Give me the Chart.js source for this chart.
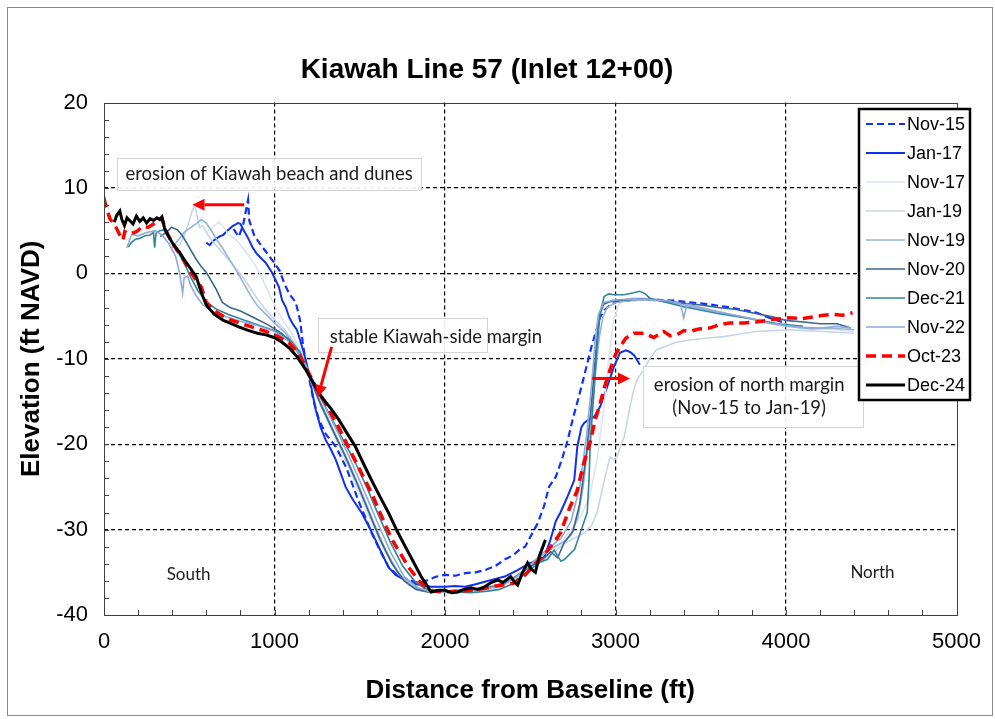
<!DOCTYPE html>
<html>
<head>
<meta charset="utf-8">
<title>Kiawah Line 57 (Inlet 12+00)</title>
<script src="https://cdn.jsdelivr.net/npm/chart.js@4.4.1/dist/chart.umd.min.js"></script>
<style>
  html, body { margin: 0; padding: 0; background: #fff; }
  canvas { display: block; }
</style>
</head>
<body>
<canvas id="profileChart" width="995" height="719"></canvas>
<script>
// ========================
// DATA  (distance ft, elevation ft NAVD)
// ========================
const seriesLabels = ['Nov-15', 'Jan-17', 'Nov-17', 'Jan-19', 'Nov-19', 'Nov-20', 'Dec-21', 'Nov-22', 'Oct-23', 'Dec-24'];
const xTickValues = [0, 1000, 2000, 3000, 4000, 5000];
const yTickValues = [-40, -30, -20, -10, 0, 10, 20];

const nov15 = [[760,5.2],[790,4.3],[815,5.6],[835,7.6],[845,8.6],[852,6.2],[880,4.5],[910,3.6],[940,2.8],[970,2.0],[1000,1.2],[1030,0.3],[1060,-1.3],[1090,-2.5],[1125,-3.4],[1150,-5.5],[1165,-8],[1180,-10],[1200,-12],[1230,-15],[1260,-17.1],[1300,-18.8],[1360,-20.3],[1420,-22.7],[1490,-26.5],[1570,-30.4],[1620,-32.5],[1670,-34.4],[1730,-35.5],[1790,-35.9],[1850,-36.3],[1900,-35.9],[1950,-35.5],[2000,-35.3],[2060,-35.4],[2120,-35.1],[2180,-35.0],[2240,-34.7],[2300,-34.2],[2350,-33.5],[2400,-33.0],[2440,-32.3],[2470,-32.0],[2510,-30.5],[2545,-29.2],[2580,-27.3],[2610,-25.0],[2650,-23.8],[2690,-21.5],[2720,-19.5],[2750,-17],[2780,-14.8],[2810,-12.5],[2835,-10.5],[2860,-8.5],[2880,-7.2],[2910,-5.1],[2940,-4.2],[2970,-3.7],[3010,-3.3],[3060,-3.2],[3125,-3.1],[3250,-3.1],[3350,-3.2],[3440,-3.4],[3540,-3.6],[3640,-3.9],[3730,-4.2],[3830,-4.6],[3900,-5.2],[3980,-5.7]];

const jan17 = [[600,3.6],[620,3.3],[640,3.8],[660,4.1],[676,4.3],[700,4.5],[717,4.9],[735,5.2],[752,5.5],[770,5.7],[785,5.9],[800,5.8],[815,5.2],[835,4.5],[851,3.9],[870,3.1],[892,2.4],[920,1.8],[950,1.2],[985,0.1],[1026,-1.6],[1044,-3.1],[1067,-4.0],[1085,-5.1],[1110,-6.0],[1131,-6.6],[1150,-7.8],[1172,-9.3],[1201,-11.6],[1220,-13.8],[1242,-16],[1270,-18],[1300,-19.5],[1330,-20.6],[1359,-21.8],[1390,-23.5],[1417,-25],[1460,-26.5],[1510,-28],[1550,-29.5],[1592,-31.2],[1630,-32.8],[1668,-34.4],[1710,-35.3],[1767,-35.9],[1830,-36.4],[1918,-36.7],[2000,-36.7],[2060,-36.6],[2117,-36.7],[2180,-36.4],[2233,-36.1],[2290,-35.8],[2350,-35.5],[2420,-34.8],[2501,-33.9],[2540,-33.6],[2583,-33.2],[2618,-31.2],[2650,-29],[2677,-28],[2717,-26.2],[2758,-24.2],[2776,-20.3],[2800,-18],[2816,-17.5],[2850,-17],[2875,-16.8],[2910,-15.6],[2951,-13.3],[2991,-10.9],[3026,-9.3],[3060,-9.0],[3085,-9.2],[3110,-9.6],[3125,-10.1],[3143,-10.7]];

const nov17 = [[600,4.8],[630,5.3],[660,5.8],[676,6.0],[700,5.4],[730,4.6],[760,4.2],[790,3.6],[820,2.8],[850,2.0],[892,0.8],[920,-0.3],[950,-1.6],[985,-3.1],[1020,-4.5],[1060,-5.8],[1100,-7],[1150,-8.9],[1200,-11.8],[1260,-15],[1320,-17.6],[1390,-20.5],[1460,-23.6],[1530,-26.8],[1600,-30.2],[1670,-33.2],[1740,-35.4],[1810,-36.6],[1880,-37.1],[1950,-37.3],[2050,-37.2],[2150,-37.1],[2250,-36.9],[2350,-36.3],[2430,-35.6],[2500,-34.6],[2560,-33.8],[2620,-32.8],[2680,-31.5],[2740,-30],[2800,-28.3],[2850,-26],[2890,-22],[2930,-16],[2960,-10],[2990,-5.5],[3020,-3.6],[3060,-3.0],[3120,-2.8],[3200,-3.0],[3300,-3.2],[3400,-3.6],[3500,-4.0],[3600,-4.4],[3700,-4.9],[3800,-5.4],[3900,-5.9],[4000,-6.2],[4100,-6.4],[4200,-6.5],[4300,-6.6],[4400,-6.8]];

const jan19 = [[440,3.2],[470,4.4],[495,5.8],[515,7.2],[531,8.0],[545,6.8],[560,5.4],[580,5.6],[600,4.8],[630,3.9],[660,3.2],[700,2.3],[740,1.4],[780,0.4],[820,-0.6],[860,-1.8],[900,-3.0],[950,-4.3],[1000,-5.4],[1060,-6.6],[1120,-8.2],[1180,-10.8],[1240,-14],[1300,-16.8],[1370,-19.8],[1440,-22.9],[1510,-26.2],[1580,-29.6],[1650,-32.6],[1720,-35],[1790,-36.5],[1860,-37.2],[1920,-37.4],[2000,-37.3],[2100,-37.3],[2200,-37.2],[2300,-36.8],[2380,-36.1],[2450,-35.3],[2520,-34.3],[2580,-33.5],[2640,-32.6],[2700,-31.6],[2760,-31],[2816,-30.4],[2860,-29.5],[2892,-28],[2920,-25.5],[2945,-23.3],[2968,-21.5],[2990,-21.8],[3009,-21.5],[3030,-20.2],[3050,-19.2],[3070,-17.2],[3085,-15.6],[3105,-13.8],[3125,-12.5],[3166,-11.3],[3200,-10],[3242,-8.9],[3300,-8.5],[3350,-8.1],[3434,-7.8],[3530,-7.6],[3633,-7.4],[3730,-7.1],[3825,-6.8],[3920,-6.7],[4017,-6.6],[4120,-6.7],[4216,-6.8],[4300,-6.9],[4400,-7.0]];

const nov19 = [[400,3.0],[430,3.8],[470,4.8],[510,5.4],[540,5.8],[570,6.3],[600,5.9],[630,5.0],[660,4.0],[700,2.8],[740,1.5],[780,0.2],[820,-1.2],[860,-2.6],[900,-3.8],[950,-4.8],[1000,-5.8],[1060,-6.9],[1120,-8.4],[1180,-10.9],[1240,-13.8],[1300,-16.4],[1370,-19.4],[1440,-22.4],[1510,-25.6],[1580,-29.1],[1650,-32.3],[1720,-34.9],[1790,-36.4],[1860,-37.1],[1930,-37.3],[2030,-37.2],[2130,-37.0],[2230,-36.8],[2330,-36.3],[2420,-35.4],[2490,-34.4],[2550,-33.3],[2600,-32.6],[2650,-31.9],[2700,-31.4],[2740,-30.6],[2780,-28.5],[2810,-25],[2840,-20],[2865,-15],[2885,-11],[2905,-7.5],[2925,-5.2],[2950,-4.0],[3000,-3.4],[3080,-3.2],[3160,-3.1],[3250,-3.2],[3350,-3.5],[3450,-3.9],[3550,-4.3],[3650,-4.7],[3750,-5.1],[3850,-5.6],[3950,-6.0],[4050,-6.3],[4150,-6.5],[4250,-6.4],[4400,-6.6]];

const nov20 = [[330,4.3],[350,4.6],[367,4.8],[396,5.4],[431,5.1],[460,4.4],[484,3.6],[510,2.7],[542,1.6],[570,0.8],[600,0.1],[630,-0.9],[659,-1.9],[694,-3.4],[740,-4.0],[800,-4.4],[880,-5.2],[960,-6.0],[1040,-7.0],[1100,-8.1],[1160,-10],[1210,-12.3],[1270,-15.3],[1340,-18.3],[1410,-21.2],[1480,-24.4],[1550,-27.8],[1620,-31.2],[1690,-34],[1760,-36],[1830,-37],[1900,-37.3],[2000,-37.2],[2100,-37.1],[2200,-37.0],[2300,-36.6],[2380,-36],[2450,-35],[2510,-34.2],[2570,-33.5],[2620,-32.6],[2660,-33.3],[2700,-31.5],[2750,-30.2],[2790,-27],[2830,-21],[2860,-15],[2885,-9],[2905,-5],[2930,-3.6],[2970,-3.3],[3050,-3.1],[3150,-3.0],[3250,-3.1],[3400,-3.5],[3500,-3.7],[3600,-4.0],[3700,-4.2],[3800,-4.6],[3900,-5.0],[4000,-5.5],[4100,-5.7],[4200,-5.9],[4300,-5.9],[4380,-6.4]];

const dec21 = [[142,3.1],[160,3.6],[185,4.0],[210,4.1],[240,4.4],[270,4.5],[290,4.8],[297,3.0],[305,4.7],[327,5.0],[350,5.1],[375,4.3],[400,3.5],[430,2.6],[470,1.2],[510,-0.5],[550,-2.0],[600,-3.3],[660,-4.2],[730,-4.8],[800,-5.3],[900,-6.0],[1000,-6.7],[1080,-7.6],[1150,-9.2],[1200,-11.5],[1260,-14.2],[1330,-16.8],[1400,-19.4],[1470,-22],[1540,-25],[1610,-28.3],[1680,-31.5],[1750,-34.2],[1820,-36],[1880,-36.9],[1940,-37.2],[2050,-37.3],[2150,-37.4],[2250,-37.2],[2320,-37.0],[2380,-36.5],[2450,-35.5],[2510,-34.5],[2560,-33.8],[2600,-33.5],[2640,-32.4],[2680,-33.7],[2700,-33.5],[2760,-32.3],[2793,-30.4],[2834,-28],[2845,-24],[2851,-20.3],[2862,-17],[2875,-13.6],[2890,-9],[2910,-4.6],[2933,-2.7],[2960,-2.4],[2991,-2.5],[3050,-2.5],[3100,-2.3],[3143,-2.1],[3175,-2.4],[3201,-2.9],[3300,-3.4],[3400,-3.9],[3475,-4.2],[3600,-4.7],[3700,-5.0],[3825,-5.4],[3950,-5.9],[4100,-6.2]];

const nov22 = [[134,3.0],[163,4.6],[200,4.4],[250,4.8],[300,5.0],[340,4.5],[380,3.5],[420,2.0],[443,0.1],[455,-1.5],[461,-2.3],[470,-0.5],[490,-0.3],[510,-1.5],[540,-2.6],[580,-3.7],[640,-4.5],[720,-5.1],[800,-5.6],[900,-6.1],[1000,-6.8],[1100,-8.2],[1180,-10.6],[1240,-13.2],[1310,-16.2],[1380,-19],[1450,-22],[1520,-25.2],[1600,-29],[1680,-32.6],[1760,-35.5],[1840,-36.8],[1920,-37.3],[2050,-37.2],[2150,-37.0],[2250,-36.9],[2350,-36.4],[2420,-35.5],[2490,-34.3],[2560,-33],[2620,-32],[2680,-31],[2740,-29],[2790,-25],[2830,-19],[2860,-13],[2880,-8],[2900,-4.8],[2930,-3.4],[3000,-3.1],[3100,-3.0],[3200,-3.1],[3300,-3.2],[3380,-3.5],[3400,-5.2],[3420,-3.6],[3500,-4.0],[3600,-4.5],[3700,-4.9],[3800,-5.3],[3900,-5.8],[4000,-6.1],[4100,-6.3],[4200,-6.4],[4300,-6.2],[4380,-6.4]];

const oct23 = [[0,7.7],[6,8.3],[15,7.6],[23,7.1],[35,6.4],[52,5.9],[70,5.4],[90,4.6],[111,3.9],[122,4.9],[150,4.6],[192,4.9],[227,5.5],[260,5.4],[300,5.9],[338,6.5],[367,4.8],[395,3.8],[425,2.8],[460,1.8],[501,0.4],[540,-0.8],[571,-1.6],[600,-3.4],[640,-4.3],[690,-4.9],[735,-5.4],[793,-5.8],[870,-6.3],[950,-6.8],[1020,-7.4],[1085,-8.1],[1140,-9.4],[1184,-11],[1240,-13.2],[1310,-15.6],[1376,-18],[1440,-20.6],[1500,-23],[1569,-25.7],[1640,-29],[1690,-31.2],[1726,-32.4],[1790,-34.5],[1843,-35.9],[1890,-36.8],[1930,-37.2],[2000,-37.3],[2100,-37.2],[2200,-37.0],[2300,-36.6],[2400,-36.3],[2470,-35.3],[2530,-34.0],[2600,-32.5],[2640,-31.5],[2677,-30.4],[2730,-27.5],[2776,-25.4],[2810,-22.5],[2851,-19.8],[2880,-17.2],[2910,-15.2],[2940,-13],[2968,-11.3],[3000,-9.5],[3026,-8.6],[3060,-7.6],[3108,-7.0],[3166,-7.0],[3224,-7.5],[3283,-6.8],[3320,-7.3],[3359,-7.2],[3400,-6.7],[3434,-6.8],[3490,-6.5],[3551,-6.4],[3610,-6.0],[3668,-5.8],[3750,-5.8],[3825,-5.7],[3920,-5.4],[4017,-5.2],[4090,-5.3],[4157,-5.1],[4220,-4.9],[4274,-4.8],[4330,-4.9],[4390,-4.6]];

const dec24 = [[60,6.0],[75,6.8],[93,7.3],[105,6.3],[120,5.6],[135,6.5],[150,6.2],[170,5.8],[190,6.7],[210,6.1],[230,6.5],[250,5.9],[270,6.4],[290,6.2],[310,6.5],[327,6.3],[340,6.6],[355,5.3],[370,4.7],[385,4.1],[410,3.3],[443,2.5],[470,1.6],[500,0.8],[520,0.2],[542,-0.4],[560,-1.6],[580,-2.7],[600,-3.7],[625,-4.3],[647,-4.8],[700,-5.5],[750,-5.9],[793,-6.3],[850,-6.7],[900,-7.0],[950,-7.2],[997,-7.5],[1040,-8.0],[1085,-8.7],[1130,-9.7],[1184,-11.3],[1230,-12.9],[1277,-14.5],[1330,-15.8],[1376,-17.1],[1425,-18.7],[1475,-20.3],[1520,-22.2],[1569,-24.2],[1620,-26.2],[1668,-28],[1720,-30.2],[1767,-32],[1815,-33.8],[1860,-35.5],[1890,-36.4],[1918,-37.3],[1960,-37.1],[2000,-37.1],[2040,-37.4],[2076,-37.3],[2110,-37.0],[2152,-36.8],[2190,-37.0],[2233,-36.7],[2270,-36.2],[2309,-35.9],[2340,-36.2],[2385,-35.5],[2410,-36.2],[2426,-36.5],[2455,-35.0],[2484,-33.9],[2505,-34.6],[2530,-35.0],[2555,-33.0],[2589,-31.2]];

const seriesData = [nov15, jan17, nov17, jan19, nov19, nov20, dec21, nov22, oct23, dec24];

// ========================
// STYLES
// ========================
const seriesStyles = [
  { color: '#1030ff', width: 2.2, dash: [7, 4] },
  { color: '#1030f0', width: 2.0, dash: [] },
  { color: '#dbe5f1', width: 1.6, dash: [] },
  { color: '#c5d6ea', width: 1.6, dash: [] },
  { color: '#95b3d7', width: 1.6, dash: [] },
  { color: '#3a6592', width: 1.6, dash: [] },
  { color: '#31849b', width: 1.6, dash: [] },
  { color: '#8eaadb', width: 1.6, dash: [] },
  { color: '#ff0000', width: 3.5, dash: [10, 6] },
  { color: '#000000', width: 3.0, dash: [] }
];

const AXIS_FONT = "'Liberation Sans', Arial, sans-serif";
const NOTE_FONT = "Lato, 'Open Sans', sans-serif";

// annotation boxes and arrows, in data units
const noteBoxes = [
  { x0: 76, x1: 1860, y0: 13.55, y1: 9.8, lines: ['erosion of Kiawah beach and dunes'], tx: 968, ty: [11.65], align: 'center' },
  { x0: 1254, x1: 2245, y0: -5.2, y1: -9.2, lines: ['stable Kiawah-side margin'], tx: 1324, ty: [-7.4], align: 'left' },
  { x0: 3160, x1: 4449, y0: -10.9, y1: -18.1, lines: ['erosion of north margin', '(Nov-15 to Jan-19)'], tx: 3784, ty: [-13.05, -15.75], align: 'center' }
];
const noteArrows = [
  { from: [822, 8.05], to: [519, 8.05] },
  { from: [1335, -8.6], to: [1254, -14.5] },
  { from: [2863, -12.3], to: [3085, -12.3] }
];
const sideLabels = [
  { text: 'South', x: 496, y: -35.3 },
  { text: 'North', x: 4507, y: -35.0 }
];

// ========================
// PLUGINS
// ========================
const pagePlugin = {
  id: 'page',
  beforeDraw(chart) {
    const { ctx, width, height } = chart;
    ctx.save();
    ctx.fillStyle = '#fff';
    ctx.fillRect(0, 0, width, height);
    ctx.strokeStyle = '#8a8a8a';
    ctx.lineWidth = 1;
    ctx.strokeRect(7.5, 7.5, width - 10, height - 11);
    ctx.restore();
  }
};

const frameAndTicksPlugin = {
  id: 'frameTicks',
  afterDatasetsDraw(chart) {
    const { ctx, chartArea: a, scales: { x, y } } = chart;
    ctx.save();
    ctx.strokeStyle = '#404040';
    ctx.lineWidth = 1;
    ctx.beginPath();
    for (let v = x.min; v <= x.max; v += 200) {
      const p = Math.round(x.getPixelForValue(v)) + 0.5;
      ctx.moveTo(p, a.bottom);
      ctx.lineTo(p, a.bottom - 5);
    }
    for (let v = y.min; v <= y.max; v += 2) {
      const p = Math.round(y.getPixelForValue(v)) + 0.5;
      ctx.moveTo(a.left, p);
      ctx.lineTo(a.left + 5, p);
    }
    ctx.stroke();
    ctx.strokeRect(Math.round(a.left) + 0.5, Math.round(a.top) + 0.5,
      Math.round(a.right - a.left), Math.round(a.bottom - a.top));
    ctx.restore();
  }
};

function drawArrow(ctx, x1, y1, x2, y2) {
  const ang = Math.atan2(y2 - y1, x2 - x1);
  const head = 12, half = 6;
  const bx = x2 - head * Math.cos(ang), by = y2 - head * Math.sin(ang);
  ctx.beginPath();
  ctx.moveTo(x1, y1);
  ctx.lineTo(bx, by);
  ctx.stroke();
  ctx.beginPath();
  ctx.moveTo(x2, y2);
  ctx.lineTo(bx + half * Math.sin(ang), by - half * Math.cos(ang));
  ctx.lineTo(bx - half * Math.sin(ang), by + half * Math.cos(ang));
  ctx.closePath();
  ctx.fill();
}

const notesPlugin = {
  id: 'notes',
  afterDatasetsDraw(chart) {
    const { ctx, scales: { x, y } } = chart;
    ctx.save();
    ctx.font = `18.5px ${NOTE_FONT}`;
    ctx.textBaseline = 'middle';
    noteBoxes.forEach(b => {
      const left = x.getPixelForValue(b.x0), right = x.getPixelForValue(b.x1);
      const top = y.getPixelForValue(b.y0), bottom = y.getPixelForValue(b.y1);
      ctx.fillStyle = 'rgba(255,255,255,0.9)';
      ctx.fillRect(left, top, right - left, bottom - top);
      ctx.strokeStyle = '#d4d4d4';
      ctx.lineWidth = 1;
      ctx.strokeRect(Math.round(left) + 0.5, Math.round(top) + 0.5, Math.round(right - left), Math.round(bottom - top));
      ctx.fillStyle = '#1a1a1a';
      ctx.textAlign = b.align;
      b.lines.forEach((t, i) => ctx.fillText(t, x.getPixelForValue(b.tx), y.getPixelForValue(b.ty[i])));
    });
    ctx.font = `17px ${NOTE_FONT}`;
    ctx.textAlign = 'center';
    sideLabels.forEach(s => ctx.fillText(s.text, x.getPixelForValue(s.x), y.getPixelForValue(s.y)));

    ctx.strokeStyle = '#ff0000';
    ctx.fillStyle = '#ff0000';
    ctx.lineWidth = 3;
    noteArrows.forEach(a => drawArrow(ctx,
      x.getPixelForValue(a.from[0]), y.getPixelForValue(a.from[1]),
      x.getPixelForValue(a.to[0]), y.getPixelForValue(a.to[1])));
    ctx.restore();
  }
};

// legend box sits over the right edge of the plot, like the original
const legendPlugin = {
  id: 'boxLegend',
  afterDraw(chart) {
    const { ctx } = chart;
    const box = { left: 859, top: 109, right: 970, bottom: 400 };
    const firstY = 124, step = 29.0;
    ctx.save();
    ctx.fillStyle = '#fff';
    ctx.fillRect(box.left, box.top, box.right - box.left, box.bottom - box.top);
    ctx.strokeStyle = '#000';
    ctx.lineWidth = 2.5;
    ctx.strokeRect(box.left, box.top, box.right - box.left, box.bottom - box.top);
    ctx.font = `18px ${AXIS_FONT}`;
    ctx.textBaseline = 'middle';
    ctx.textAlign = 'left';
    chart.data.datasets.forEach((ds, i) => {
      const yy = firstY + i * step;
      ctx.strokeStyle = ds.borderColor;
      ctx.lineWidth = ds.borderWidth;
      ctx.setLineDash(ds.borderDash || []);
      ctx.beginPath();
      ctx.moveTo(866, yy);
      ctx.lineTo(905, yy);
      ctx.stroke();
      ctx.setLineDash([]);
      ctx.fillStyle = '#000';
      ctx.fillText(ds.label, 907, yy + 1);
    });
    ctx.restore();
  }
};

// ========================
// CHART
// ========================
const isEdge = (ctx, lo, hi) => ctx.tick && (ctx.tick.value === lo || ctx.tick.value === hi);

new Chart(document.getElementById('profileChart'), {
  type: 'line',
  data: {
    datasets: seriesLabels.map((label, i) => ({
      label,
      data: seriesData[i].map(([dx, el]) => ({ x: dx, y: el })),
      borderColor: seriesStyles[i].color,
      borderWidth: seriesStyles[i].width,
      borderDash: seriesStyles[i].dash,
      pointRadius: 0,
      tension: 0,
      fill: false,
      order: seriesLabels.length - i
    }))
  },
  options: {
    responsive: false,
    animation: false,
    events: [],
    layout: { padding: { left: 12, right: 33, top: 0, bottom: 10 } },
    plugins: {
      legend: { display: false },
      tooltip: { enabled: false },
      title: {
        display: true,
        text: 'Kiawah Line 57 (Inlet 12+00)',
        color: '#000',
        font: { family: AXIS_FONT, size: 28, weight: 'bold' },
        padding: { top: 53, bottom: 16 }
      }
    },
    scales: {
      x: {
        type: 'linear',
        min: 0,
        max: 5000,
        afterBuildTicks: s => { s.ticks = xTickValues.map(v => ({ value: v })); },
        afterFit: s => { s.height = 94; },
        ticks: { color: '#000', font: { family: AXIS_FONT, size: 22 }, padding: 14, maxRotation: 0, callback: v => String(v) },
        grid: { color: c => isEdge(c, 0, 5000) ? 'rgba(0,0,0,0)' : '#000', lineWidth: 1.2, drawTicks: false },
        border: { display: false, dash: [4, 3] },
        title: {
          display: true,
          text: 'Distance from Baseline (ft)',
          color: '#000',
          font: { family: AXIS_FONT, size: 26, weight: 'bold' },
          padding: { top: 0, bottom: 3 }
        }
      },
      y: {
        type: 'linear',
        min: -40,
        max: 20,
        afterBuildTicks: s => { s.ticks = yTickValues.map(v => ({ value: v })); },
        afterFit: s => { s.width = 92; },
        ticks: { color: '#000', font: { family: AXIS_FONT, size: 22 }, padding: 16, callback: v => String(v) },
        grid: { color: c => isEdge(c, -40, 20) ? 'rgba(0,0,0,0)' : '#000', lineWidth: 1.2, drawTicks: false },
        border: { display: false, dash: [4, 3] },
        title: {
          display: true,
          text: 'Elevation (ft NAVD)',
          color: '#000',
          font: { family: AXIS_FONT, size: 26, weight: 'bold' },
          padding: { top: 4, bottom: 0 }
        }
      }
    }
  },
  plugins: [pagePlugin, frameAndTicksPlugin, notesPlugin, legendPlugin]
});
</script>
</body>
</html>
